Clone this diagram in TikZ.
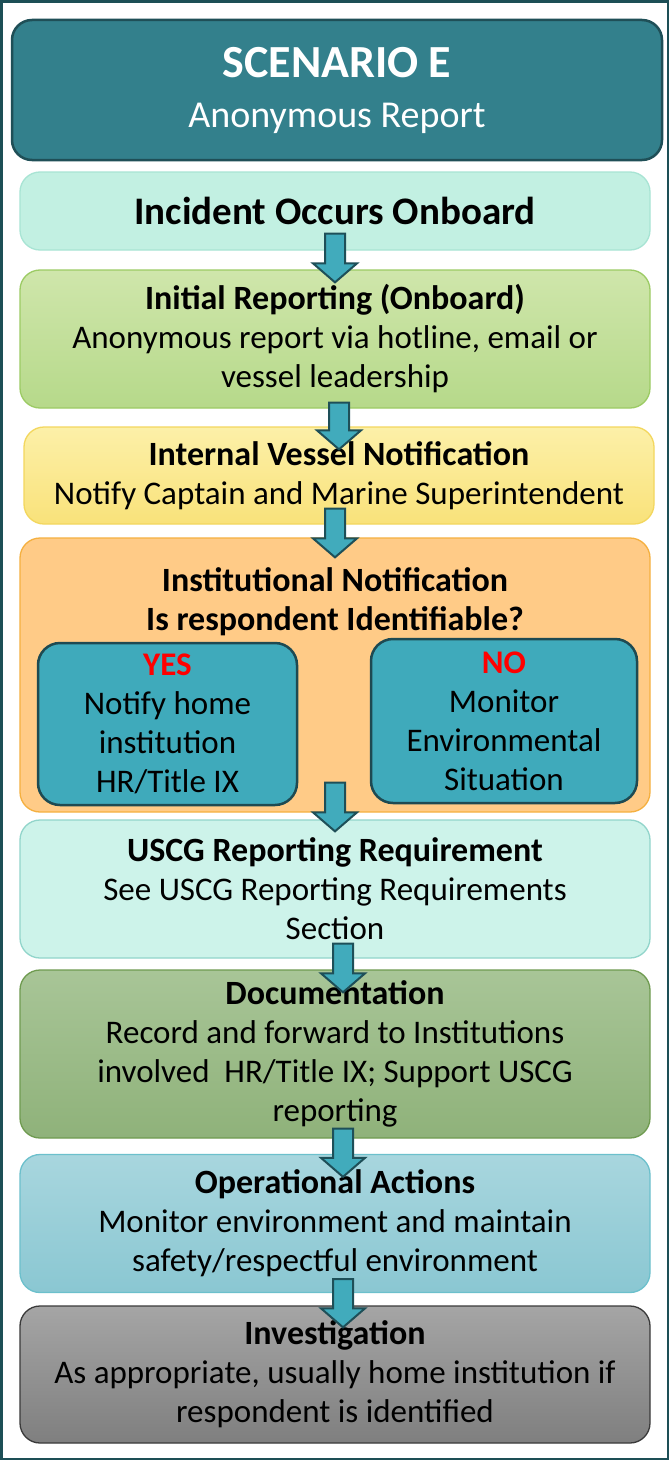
\documentclass[tikz,border=0pt]{standalone}
\usepackage{fontspec}
\setmainfont{Carlito}
\usetikzlibrary{calc}

\definecolor{frameline}{HTML}{1D4F56}
\definecolor{titlefill}{HTML}{33808C}
\definecolor{titleline}{HTML}{1F4F57}
\definecolor{arrowfill}{HTML}{41ABBC}
\definecolor{arrowline}{HTML}{1E4F58}
\definecolor{choicefill}{HTML}{3FAABB}
\definecolor{choiceline}{HTML}{1E4A52}
\definecolor{answerred}{HTML}{FF0000}
\definecolor{mintfill}{HTML}{C2F0E2}
\definecolor{mintline}{HTML}{A8E4D4}
\definecolor{greentop}{HTML}{CFE6AB}
\definecolor{greenbot}{HTML}{B6D98A}
\definecolor{greenline}{HTML}{9CCB64}
\definecolor{yellowtop}{HTML}{FCF0A8}
\definecolor{yellowbot}{HTML}{F9E27A}
\definecolor{yellowline}{HTML}{F3D75E}
\definecolor{orangefill}{HTML}{FFCB87}
\definecolor{orangeline}{HTML}{F5B040}
\definecolor{uscgfill}{HTML}{CDF3EA}
\definecolor{uscgline}{HTML}{92D5CB}
\definecolor{olivetop}{HTML}{A8C597}
\definecolor{olivebot}{HTML}{8FB27A}
\definecolor{oliveline}{HTML}{6F9B50}
\definecolor{bluetop}{HTML}{A8D6DE}
\definecolor{bluebot}{HTML}{8AC7D2}
\definecolor{blueline}{HTML}{6CC0CC}
\definecolor{graytop}{HTML}{A5A5A5}
\definecolor{graybot}{HTML}{7F7F7F}
\definecolor{grayline}{HTML}{3A3A3A}

% block arrow from #1 (top) to #2 (tip)
\newcommand\flowarrow[2]{%
  \draw[flowarrow] let \p1=(#1), \p2=(#2) in
    (\x2-10pt,\y1) -- (\x2+10pt,\y1) -- (\x2+10pt,\y2+19pt) -- (\x2+22pt,\y2+19pt)
    -- (\x2,\y2) -- (\x2-22pt,\y2+19pt) -- (\x2-10pt,\y2+19pt) -- cycle;}

\begin{document}
\begin{tikzpicture}[x=1pt,y=-1pt,
  stepbox/.style={draw, line width=1.3pt, rounded corners=20pt, minimum width=630pt,
    inner sep=0pt, align=center, font=\fontsize{33}{39}\selectfont},
  choicebox/.style={draw=choiceline, fill=choicefill, line width=2.5pt, rounded corners=22pt,
    inner sep=0pt, align=center, font=\fontsize{33}{39}\selectfont},
  flowarrow/.style={draw=arrowline, fill=arrowfill, line width=2pt, line join=miter}]
  \useasboundingbox (0,0) rectangle (670,1461);
  \fill[white] (0,0) rectangle (670,1461);
  %Rahmen
  \draw[frameline, line width=2.5pt] (1.5,1.5) rectangle (668,1459);
  %Titel
  \node[stepbox, draw=titleline, fill=titlefill, line width=2.5pt, minimum width=650pt,
    minimum height=140pt, text=white, font=\fontsize{38}{49}\selectfont] (title) at (337,90)
    {{\fontsize{46}{49}\selectfont\bfseries SCENARIO E}\\[1pt]Anonymous Report};
  %Schritte
  \node[stepbox, draw=mintline, fill=mintfill, minimum height=78pt,
    font=\bfseries\fontsize{39}{45}\selectfont] (b1) at (335,211)
    {Incident Occurs Onboard};
  \node[stepbox, draw=greenline, top color=greentop, bottom color=greenbot, minimum height=138pt] (b2) at (335,339)
    {{\fontsize{34}{39}\selectfont\bfseries Initial Reporting (Onboard)}\\Anonymous report via hotline, email or\\vessel leadership};
  \node[stepbox, draw=yellowline, top color=yellowtop, bottom color=yellowbot, minimum height=97pt] (b3) at (339,475.5)
    {{\fontsize{34}{39}\selectfont\bfseries Internal Vessel Notification}\\Notify Captain and Marine Superintendent};
  \node[stepbox, draw=orangeline, fill=orangefill, minimum height=274pt] (b4) at (335,675) {};
  \node[align=center, font=\bfseries\fontsize{34}{39}\selectfont] (b4t) at (335,602)
    {Institutional Notification\\Is respondent Identifiable?};
  \node[choicebox, minimum width=259pt, minimum height=162pt] (yes) at (167.5,724)
    {\textcolor{answerred}{\textbf{YES}}\\Notify home\\institution\\HR/Title IX};
  \node[choicebox, minimum width=266pt, minimum height=164pt] (no) at (504,721)
    {\textcolor{answerred}{\textbf{NO}}\\Monitor\\Environmental\\Situation};
  \node[stepbox, draw=uscgline, fill=uscgfill, minimum height=138pt] (b5) at (335,889)
    {{\fontsize{34}{39}\selectfont\bfseries USCG Reporting Requirement}\\See USCG Reporting Requirements\\Section};
  \node[stepbox, draw=oliveline, top color=olivetop, bottom color=olivebot, minimum height=168pt] (b6) at (335,1054)
    {{\fontsize{34}{39}\selectfont\bfseries Documentation}\\Record and forward to Institutions\\involved~ HR/Title IX; Support USCG\\reporting};
  \node[stepbox, draw=blueline, top color=bluetop, bottom color=bluebot, minimum height=138pt] (b7) at (335,1223.5)
    {{\fontsize{34}{39}\selectfont\bfseries Operational Actions}\\Monitor environment and maintain\\safety/respectful environment};
  \node[stepbox, draw=grayline, top color=graytop, bottom color=graybot, minimum height=137pt] (b8) at (335,1374.5)
    {{\fontsize{34}{39}\selectfont\bfseries Investigation}\\As appropriate, usually home institution if\\respondent is identified};
  %Pfeile
  \flowarrow{[yshift=17pt]b1.south}{[yshift=-13pt]b2.north}
  \flowarrow{[yshift=6pt]b2.south}{[yshift=-23pt]b3.north}
  \flowarrow{[yshift=16pt]b3.south}{[yshift=-20pt]b4.north}
  \flowarrow{[yshift=30pt]b4.south}{[yshift=-12pt]b5.north}
  \flowarrow{[xshift=8pt,yshift=15pt]b5.south}{[xshift=8pt,yshift=-23pt]b6.north}
  \flowarrow{[xshift=8pt,yshift=10pt]b6.south}{[xshift=8pt,yshift=-23pt]b7.north}
  \flowarrow{[xshift=8pt,yshift=14pt]b7.south}{[xshift=8pt,yshift=-22pt]b8.north}
\end{tikzpicture}
\end{document}
